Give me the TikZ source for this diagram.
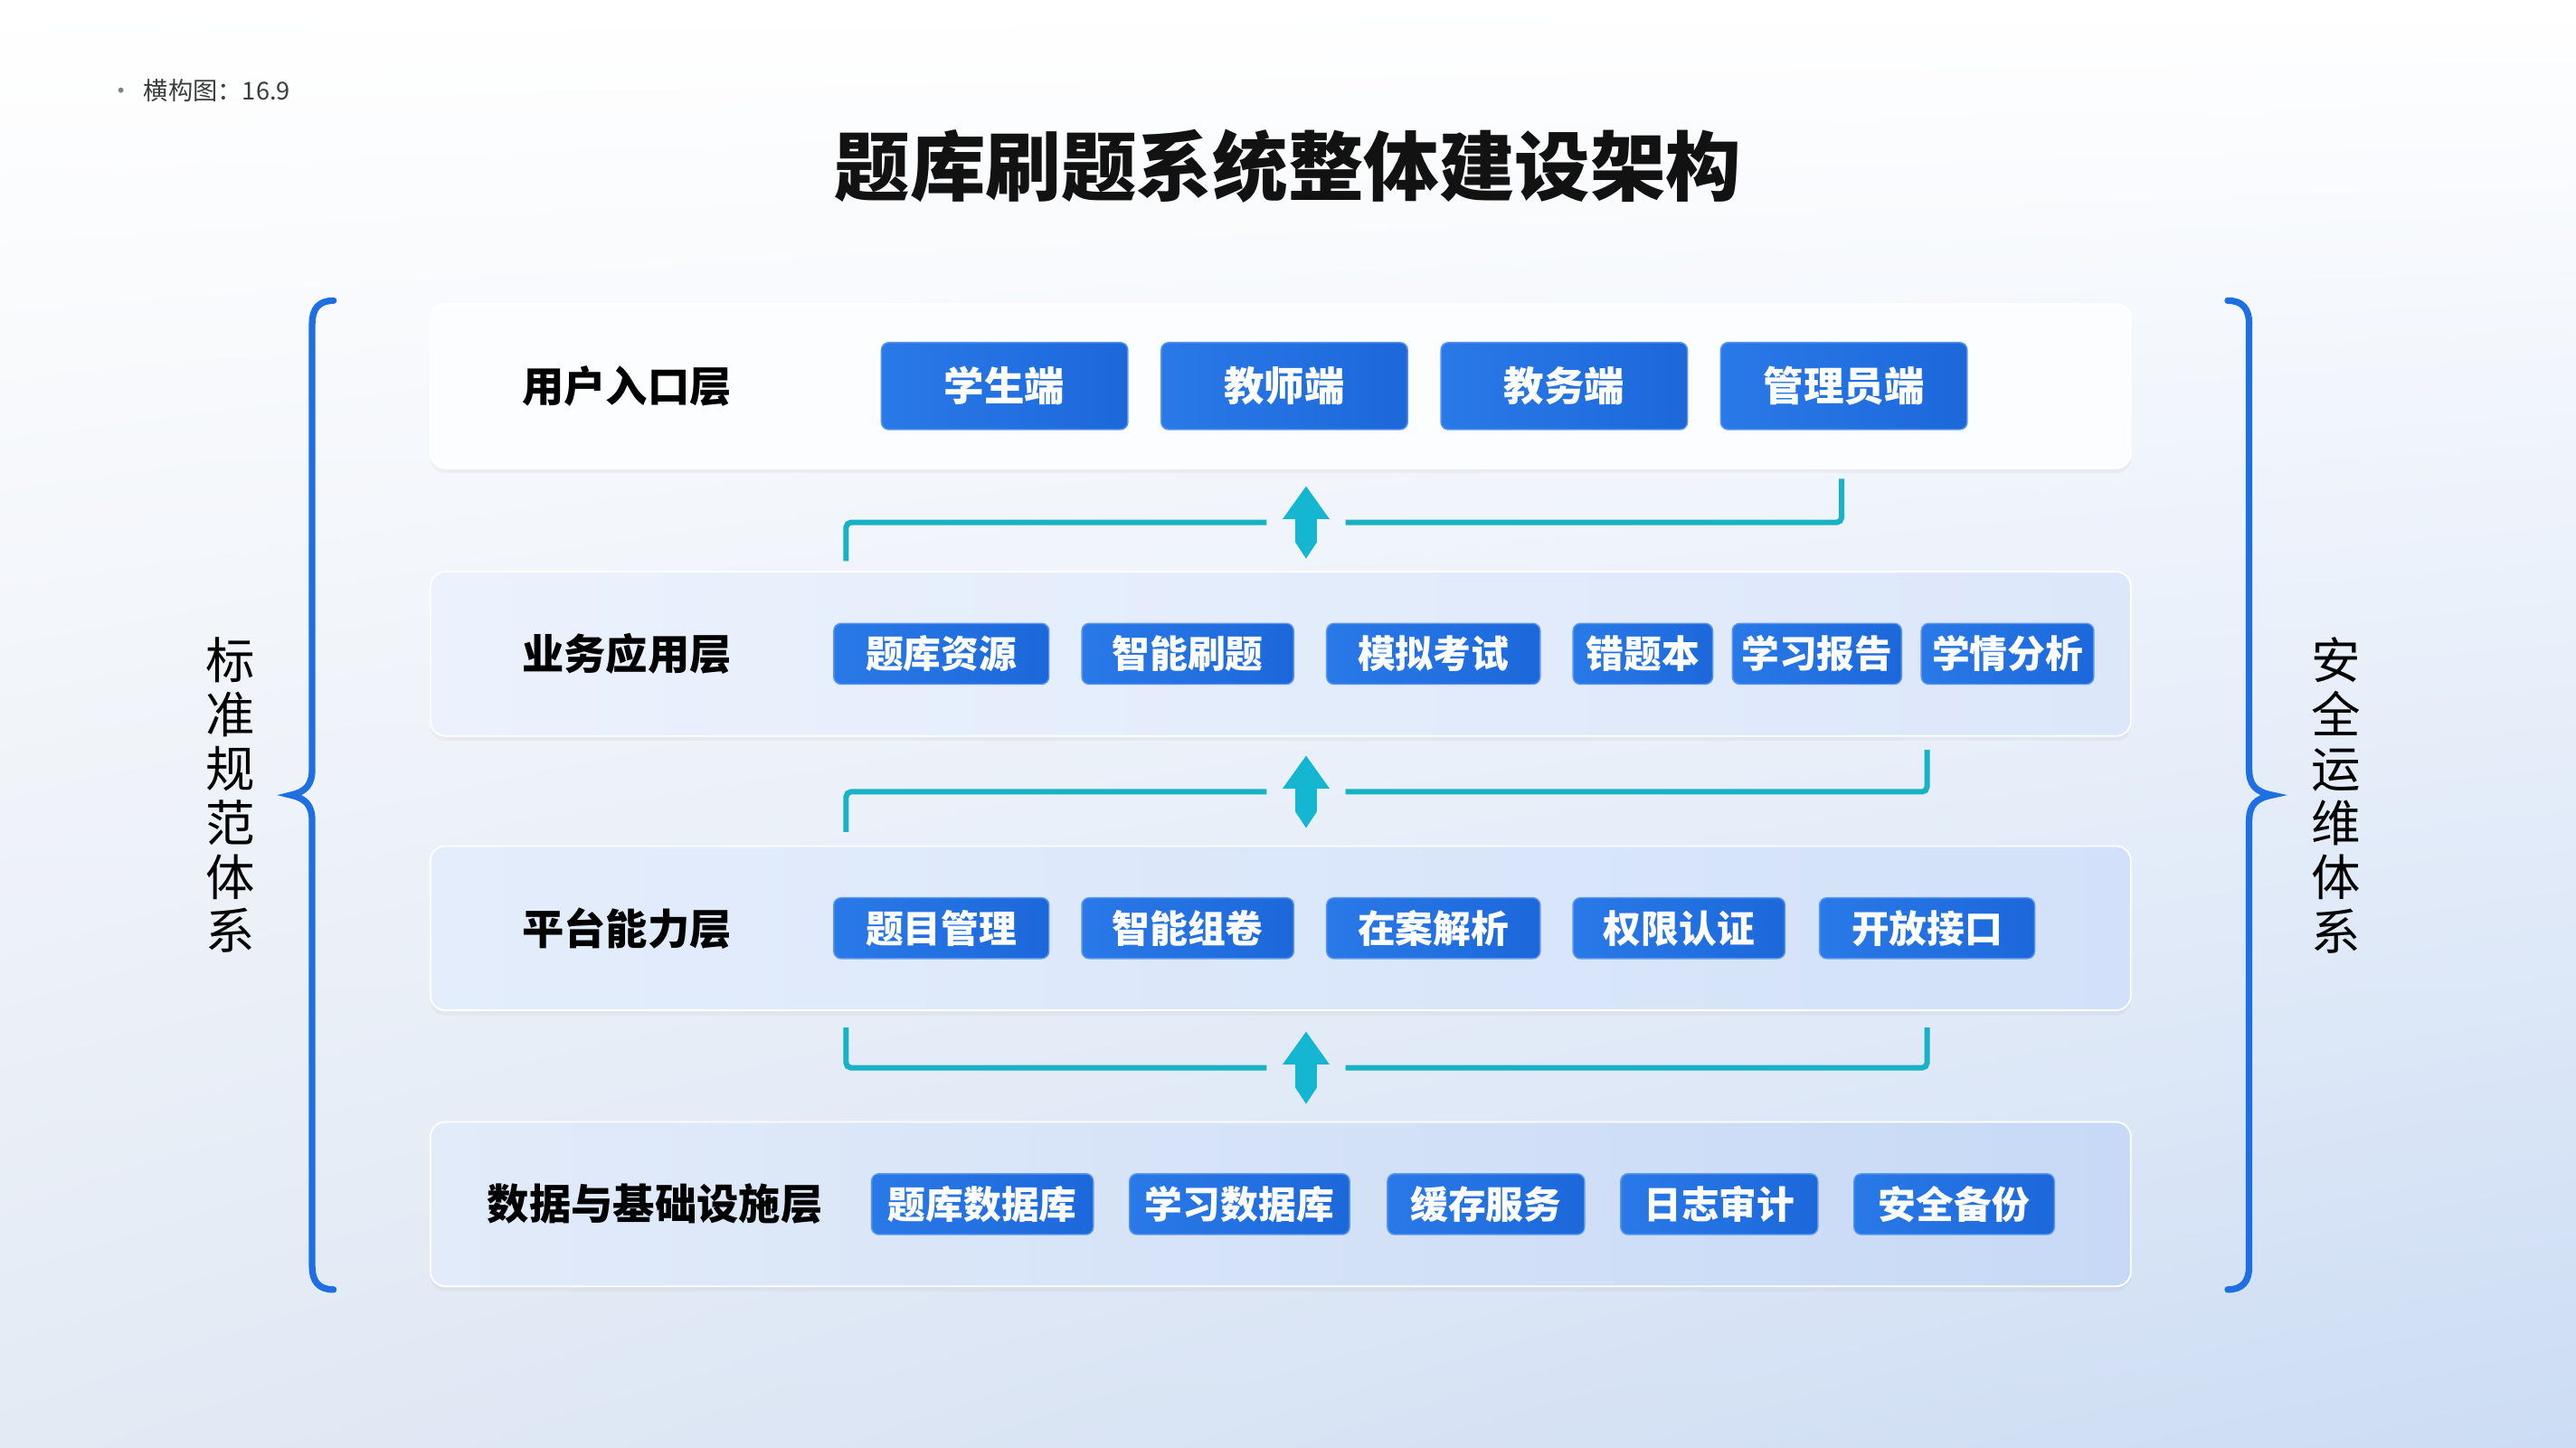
\documentclass[tikz,border=0pt]{standalone}
\usepackage{fontspec}
\setmainfont{Noto Sans CJK SC}
\usetikzlibrary{positioning, calc, shadows, shadings}

\definecolor{btnLeft}{HTML}{2A79E8}
\definecolor{btnRight}{HTML}{1C68DB}
\definecolor{btnEdge}{HTML}{5C96EC}
\definecolor{flowTeal}{HTML}{17B2C4}
\definecolor{arrowCyan}{HTML}{15B6D2}
\definecolor{braceBlue}{HTML}{1E6FE3}
\definecolor{panelWhite}{HTML}{FCFDFF}
\definecolor{appLeft}{HTML}{EBF2FD}
\definecolor{appRight}{HTML}{DCE7FA}
\definecolor{platLeft}{HTML}{E4EDFB}
\definecolor{platRight}{HTML}{D2E1F9}
\definecolor{dataLeft}{HTML}{E2EBF9}
\definecolor{dataRight}{HTML}{C7D9F6}
\definecolor{bgLowLeft}{HTML}{E3EAF4}
\definecolor{bgLowRight}{HTML}{CCDCF4}
\definecolor{noteGray}{HTML}{3C3C3C}

\tikzset{
    liftarrow/.pic={
        \fill[arrowCyan] (0,22) -- (14.3,2) -- (6.6,2) -- (6.6,-12)
            -- (0,-22) -- (-6.6,-12) -- (-6.6,2) -- (-14.3,2) -- cycle;
    }
}

\begin{document}
\begin{tikzpicture}[
        x=1pt, y=1pt,
        layer/.style={
            rectangle,
            rounded corners=9pt,
            minimum width=1035pt,
            minimum height=100pt,
            draw=white,
            line width=1pt,
            drop shadow={opacity=0.07, shadow xshift=0pt, shadow yshift=-3pt}
        },
        layertitle/.style={
            font=\fontsize{25.5}{28}\selectfont\bfseries,
            text=black,
            inner sep=0pt
        },
        btn/.style={
            rectangle,
            rounded corners=4.5pt,
            left color=btnLeft,
            right color=btnRight,
            draw=btnEdge,
            line width=0.8pt,
            text=white,
            font=\fontsize{23}{26}\selectfont\bfseries,
            minimum height=37pt,
            inner sep=0pt,
            outer sep=0pt
        },
        bigbtn/.style={
            btn,
            minimum width=150pt,
            minimum height=53pt,
            font=\fontsize{24.5}{27}\selectfont\bfseries
        },
        link/.style={
            draw=flowTeal,
            line width=3.3pt,
            rounded corners=3pt
        },
        brace/.style={
            draw=braceBlue,
            line width=4pt,
            line cap=round
        },
        sidetext/.style={
            align=center,
            font=\fontsize{30}{33}\selectfont,
            text=black
        }
    ]

    % --------------------------------------------------------
    % Background
    % --------------------------------------------------------

    \shade[upper left=white, upper right=white,
        lower left=bgLowLeft, lower right=bgLowRight]
        (0,0) rectangle (1568,-881);
    \useasboundingbox (0,0) rectangle (1568,-881);

    \node[anchor=west, text=noteGray, font=\fontsize{15}{17}\selectfont] (note)
        at (63,-55) {{\color{gray}•}\hspace{6pt}横构图：16.9};

    \node[font=\fontsize{46}{52}\selectfont\bfseries, text=black!93] (title)
        at (784,-101) {题库刷题系统整体建设架构};

    % --------------------------------------------------------
    % Layers
    % --------------------------------------------------------

    \node[layer, fill=panelWhite] (userLayer) at (779.5,-235) {};
    \node[layer, left color=appLeft, right color=appRight] (appLayer)
        at (779.5,-398) {};
    \node[layer, left color=platLeft, right color=platRight] (platLayer)
        at (779.5,-565) {};
    \node[layer, left color=dataLeft, right color=dataRight] (dataLayer)
        at (779.5,-733) {};

    \node[layertitle, right=56pt of userLayer.west] (userTitle) {用户入口层};
    \node[layertitle, right=56pt of appLayer.west] (appTitle) {业务应用层};
    \node[layertitle, right=56pt of platLayer.west] (platTitle) {平台能力层};
    \node[layertitle, right=35pt of dataLayer.west] (dataTitle) {数据与基础设施层};

    % User entry
    \node[bigbtn, right=275pt of userLayer.west] (student) {学生端};
    \node[bigbtn, right=20.3pt of student] (teacher) {教师端};
    \node[bigbtn, right=20.3pt of teacher] (office) {教务端};
    \node[bigbtn, right=20.3pt of office] (admin) {管理员端};

    % Applications
    \node[btn, minimum width=131pt, right=246pt of appLayer.west] (bank) {题库资源};
    \node[btn, minimum width=129pt, right=20pt of bank] (practice) {智能刷题};
    \node[btn, minimum width=130pt, right=20pt of practice] (mockexam) {模拟考试};
    \node[btn, minimum width=85pt, right=20pt of mockexam] (mistakes) {错题本};
    \node[btn, minimum width=103pt, right=12pt of mistakes] (report) {学习报告};
    \node[btn, minimum width=105pt, right=12pt of report] (analysis) {学情分析};

    % Platform
    \node[btn, minimum width=131pt, right=246pt of platLayer.west] (itemmgmt) {题目管理};
    \node[btn, minimum width=129pt, right=20pt of itemmgmt] (paper) {智能组卷};
    \node[btn, minimum width=130pt, right=20pt of paper] (explain) {在案解析};
    \node[btn, minimum width=129pt, right=20pt of explain] (auth) {权限认证};
    \node[btn, minimum width=131pt, right=21pt of auth] (openapi) {开放接口};

    % Data and infrastructure
    \node[btn, minimum width=135pt, right=269pt of dataLayer.west] (bankdb) {题库数据库};
    \node[btn, minimum width=134pt, right=22pt of bankdb] (learndb) {学习数据库};
    \node[btn, minimum width=120pt, right=23pt of learndb] (cache) {缓存服务};
    \node[btn, minimum width=120pt, right=22pt of cache] (audit) {日志审计};
    \node[btn, minimum width=122pt, right=22pt of audit] (backup) {安全备份};

    % --------------------------------------------------------
    % Upward flows
    % --------------------------------------------------------

    \coordinate (flowA) at (795,-318);
    \coordinate (flowB) at (795,-482);
    \coordinate (flowC) at (795,-650);
    \coordinate (linkL) at (515,0);
    \coordinate (linkRa) at (1121,0);
    \coordinate (linkR) at (1173,0);

    % Applications -> user entry
    \draw[link]
        ($(appLayer.north -| linkL)+(0,6)$)
        |- ($(flowA)+(-24,0)$);
    \draw[link]
        ($(flowA)+(24,0)$)
        -| ($(userLayer.south -| linkRa)+(0,-6)$);
    \pic at (flowA) {liftarrow};

    % Platform -> applications
    \draw[link]
        ($(platLayer.north -| linkL)+(0,8)$)
        |- ($(flowB)+(-24,0)$);
    \draw[link]
        ($(flowB)+(24,0)$)
        -| ($(appLayer.south -| linkR)+(0,-8)$);
    \pic at (flowB) {liftarrow};

    % Data -> platform
    \draw[link]
        ($(platLayer.south -| linkL)+(0,-10)$)
        |- ($(flowC)+(-24,0)$);
    \draw[link]
        ($(flowC)+(24,0)$)
        -| ($(platLayer.south -| linkR)+(0,-10)$);
    \pic at (flowC) {liftarrow};

    % --------------------------------------------------------
    % Side systems
    % --------------------------------------------------------

    \draw[brace]
        (203,-183) .. controls (194,-183) and (190,-188) .. (190,-197)
        -- (190,-468) .. controls (190,-478) and (186,-482) .. (177,-484)
        .. controls (186,-486) and (190,-490) .. (190,-500)
        -- (190,-771) .. controls (190,-780) and (194,-785) .. (203,-785);

    \draw[brace]
        (1356,-183) .. controls (1365,-183) and (1369,-188) .. (1369,-197)
        -- (1369,-468) .. controls (1369,-478) and (1373,-482) .. (1383,-484)
        .. controls (1373,-486) and (1369,-490) .. (1369,-500)
        -- (1369,-771) .. controls (1369,-780) and (1365,-785) .. (1356,-785);

    \node[sidetext] (standards) at (140,-484) {标\\准\\规\\范\\体\\系};
    \node[sidetext] (security) at (1422,-484) {安\\全\\运\\维\\体\\系};

\end{tikzpicture}
\end{document}
